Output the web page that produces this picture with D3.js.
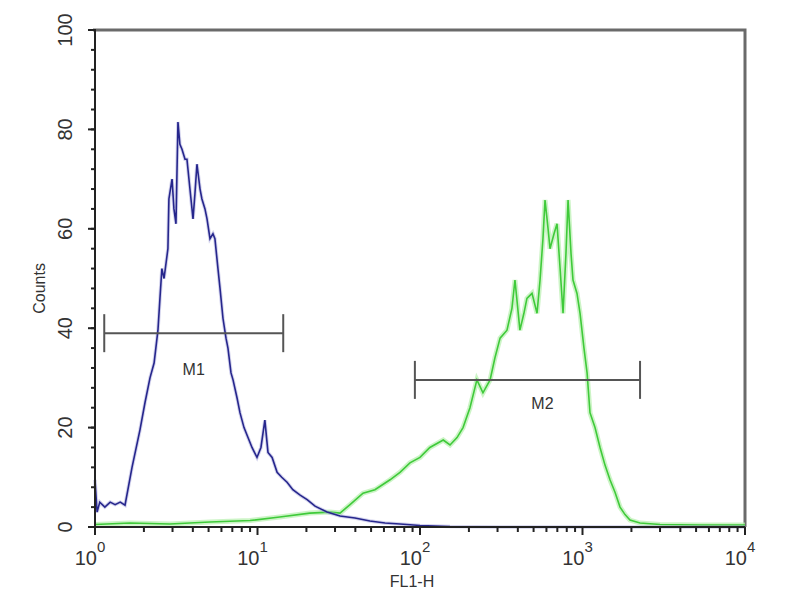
<!DOCTYPE html>
<html><head><meta charset="utf-8">
<script src="https://cdn.jsdelivr.net/npm/d3@7/dist/d3.min.js"></script>
<style>body{margin:0;background:#fff}svg{display:block}text{font-family:"Liberation Sans",Arial,sans-serif}</style>
</head><body><svg id="c" width="800" height="600"></svg>
<script>
// Blue (control) histogram: FL1-H value, counts
const blueX = [1.00,1.03,1.07,1.15,1.24,1.33,1.43,1.53,1.69,1.89,2.03,2.18,2.31,2.44,2.51,2.58,2.66,2.81,2.85,2.98,3.06,3.15,3.24,3.33,3.43,3.58,3.68,3.84,4.01,4.12,4.24,4.43,4.55,4.75,4.89,5.10,5.32,5.47,5.71,5.88,6.13,6.40,6.58,6.87,7.07,7.48,7.80,8.26,8.74,9.25,9.93,10.5,11.1,11.6,12.3,13.2,14.1,15.2,16.5,18.3,20.2,22.6,26.8,32.2,39.8,49.2,60.9,75.3,100,153,310,10000];
const blueY = [9.5,3,5,4,5,4.5,5,4.4,12,19.5,25,30,33,39.6,46,52,50,56,66,70,64,61,81.5,77,76,74,74,68,62,67,73,68,66,64,62,58,59,58,52,48,42,38,36,31,29.6,26,23,20,18,16,14,16,21.5,15,14,11,10,9,7.5,6.4,5.5,4.2,3,2.2,1.8,1.2,0.8,0.6,0.3,0.1,0,0];
// Green (antibody) histogram
const greenX = [1.00,1.64,2.89,5.10,9.0,13.7,21.0,27.8,32.2,37.1,44.6,52.8,65.4,75.3,86.7,100,115,139,153,169,184,203,224,244,270,289,311,343,368,384,412,436,455,489,525,548,571,588,614,631,668,697,728,759,791,815,850,874,925,966,1021,1067,1112,1194,1282,1374,1476,1585,1702,1827,1959,2259,3000,5285,10000];
const greenY = [0.5,0.8,0.6,1.0,1.3,2.0,2.8,3.0,2.8,4.5,6.8,7.5,9.5,11,12.9,14,16,17.5,16.5,18,20,24,29.6,27,29.6,34,38,39.6,44,49.7,39.6,43,46,47,43,49.7,58,65.8,60,56,59,61,52,43,55,65.8,55,49.7,47,43,36,31,23,20,16,12.5,9.5,7,4,2.5,1.4,0.8,0.5,0.4,0.4];
// Markers
const markerNames = ["M1","M2"];
const markerLo = [1.14, 93];
const markerHi = [14.4, 2260];
const markerCount = [39, 29.6];
const yTicks = [0,20,40,60,80,100];
const xTickExp = [0,1,2,3,4];

const svg = d3.select("#c");
const x = d3.scaleLog().domain([1,10000]).range([95,745]);
const y = d3.scaleLinear().domain([0,100]).range([527,30]);

// frame top/right (gray)
svg.append("path").attr("d",`M${x(1)-2},${y(100)}H${x(10000)}V${y(0)}`)
  .attr("fill","none").attr("stroke","#6a6a6a").attr("stroke-width",3);

const line = d3.line().x(d=>x(d[0])).y(d=>y(d[1]));
const green = greenX.map((v,i)=>[v,greenY[i]]);
const blue = blueX.map((v,i)=>[v,blueY[i]]);
svg.append("path").datum(green).attr("d",line).attr("fill","none").attr("stroke","#b6efae").attr("stroke-width",5).attr("opacity",0.7);
svg.append("path").datum(green).attr("d",line).attr("fill","none").attr("stroke","#3fca3a").attr("stroke-width",1.6);
svg.append("path").datum(blue).attr("d",line).attr("fill","none").attr("stroke","#a8a8dc").attr("stroke-width",3.5).attr("opacity",0.5);
svg.append("path").datum(blue).attr("d",line).attr("fill","none").attr("stroke","#26268c").attr("stroke-width",1.6);

// markers
markerNames.forEach((n,i)=>{
  const g = svg.append("g").attr("stroke","#555").attr("stroke-width",2);
  const yy = y(markerCount[i]);
  g.append("line").attr("x1",x(markerLo[i])).attr("x2",x(markerHi[i])).attr("y1",yy).attr("y2",yy);
  g.append("line").attr("x1",x(markerLo[i])).attr("x2",x(markerLo[i])).attr("y1",yy-19).attr("y2",yy+19);
  g.append("line").attr("x1",x(markerHi[i])).attr("x2",x(markerHi[i])).attr("y1",yy-19).attr("y2",yy+19);
});
svg.append("text").attr("x",(x(markerLo[0])+x(markerHi[0]))/2).attr("y",y(markerCount[0])+42).attr("text-anchor","middle").attr("font-size",16).attr("fill","#333").text(markerNames[0]);
svg.append("text").attr("x",(x(markerLo[1])+x(markerHi[1]))/2+15).attr("y",y(markerCount[1])+29).attr("text-anchor","middle").attr("font-size",16).attr("fill","#333").text(markerNames[1]);

// y axis
svg.append("line").attr("x1",x(1)).attr("x2",x(1)).attr("y1",y(0)+1).attr("y2",y(100)).attr("stroke","#222").attr("stroke-width",2);
d3.range(0,101,4).forEach(v=>{
  svg.append("line").attr("x1",x(1)-4).attr("x2",x(1)+1).attr("y1",y(v)).attr("y2",y(v)).attr("stroke","#222").attr("stroke-width",2);
});
yTicks.forEach(v=>{
  svg.append("line").attr("x1",x(1)-7).attr("x2",x(1)).attr("y1",y(v)).attr("y2",y(v)).attr("stroke","#222").attr("stroke-width",2);
  svg.append("text").attr("transform",`translate(72,${y(v)}) rotate(-90)`).attr("text-anchor","middle")
    .attr("font-size",20).attr("fill","#333").text(v);
});
svg.append("text").attr("transform",`translate(45,${y(48)}) rotate(-90)`).attr("text-anchor","middle").attr("font-size",16).attr("fill","#333").text("Counts");

// x axis
svg.append("line").attr("x1",x(1)-1).attr("x2",x(10000)).attr("y1",y(0)).attr("y2",y(0)).attr("stroke","#222").attr("stroke-width",2);
xTickExp.forEach(e=>{
  const base = Math.pow(10,e);
  svg.append("line").attr("x1",x(base)).attr("x2",x(base)).attr("y1",y(0)).attr("y2",y(0)+8).attr("stroke","#222").attr("stroke-width",2);
  if(e<4) for(let k=2;k<10;k++){
    svg.append("line").attr("x1",x(base*k)).attr("x2",x(base*k)).attr("y1",y(0)).attr("y2",y(0)+5).attr("stroke","#222").attr("stroke-width",2);
  }
  svg.append("text").attr("x",x(base)+2).attr("y",565).attr("text-anchor","end").attr("font-size",20).attr("fill","#333").text("10");
  svg.append("text").attr("x",x(base)+2).attr("y",552).attr("text-anchor","start").attr("font-size",15).attr("fill","#333").text(e);
});
svg.append("text").attr("x",x(100)-8).attr("y",587).attr("text-anchor","middle").attr("font-size",16).attr("fill","#333").text("FL1-H");
</script></body></html>
